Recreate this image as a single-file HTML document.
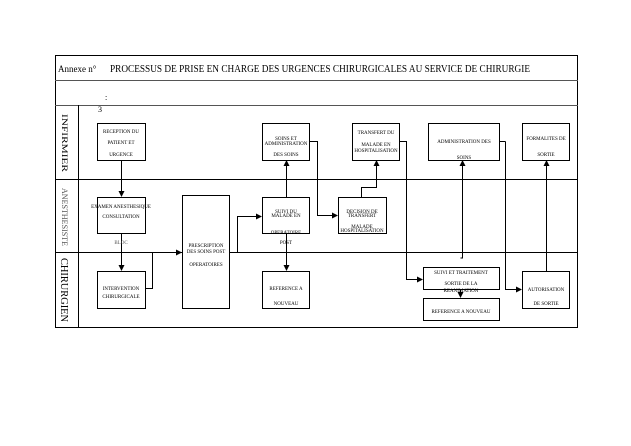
<!DOCTYPE html>
<html><head><meta charset="utf-8"><style>
html,body{margin:0;padding:0;background:#fff;}
svg{display:block;font-family:"Liberation Serif",serif;}
</style></head><body>
<svg width="631" height="446" viewBox="0 0 631 446" xmlns="http://www.w3.org/2000/svg">
<defs><marker id="a" markerWidth="6" markerHeight="6" refX="5" refY="3" orient="auto"><path d="M0,0 L6,3 L0,6 z" fill="#000"/></marker></defs>
<rect width="631" height="446" fill="#fff"/>
<g fill="none" stroke="#000" stroke-width="1">
<rect x="55.5" y="55.5" width="522" height="272"/>
<line x1="55" y1="80.5" x2="578" y2="80.5" stroke="#555"/>
<line x1="55" y1="105.5" x2="578" y2="105.5" stroke="#555"/>
<line x1="55" y1="179.5" x2="578" y2="179.5"/>
<line x1="55" y1="252.5" x2="578" y2="252.5"/>
<line x1="78.5" y1="105" x2="78.5" y2="327"/>
</g>
<text x="58" y="72" font-size="9">Annexe n°</text>
<text x="110" y="72" font-size="10.5" textLength="420" lengthAdjust="spacingAndGlyphs">PROCESSUS DE PRISE EN CHARGE DES URGENCES CHIRURGICALES AU SERVICE DE CHIRURGIE</text>
<text x="105" y="100" font-size="8">:</text>
<text x="98" y="112" font-size="8">3</text>
<g font-size="8">
<text transform="translate(62,114) rotate(90)" textLength="58" lengthAdjust="spacingAndGlyphs">INFIRMIER</text>
<text transform="translate(62,188) rotate(90)" textLength="58" lengthAdjust="spacingAndGlyphs" fill="#555">ANESTHESISTE</text>
<text transform="translate(61,258) rotate(90)" font-size="10" textLength="64" lengthAdjust="spacingAndGlyphs">CHIRURGIEN</text>
</g>
<g fill="#fff" stroke="#000" stroke-width="1">
<rect x="97.5" y="123.5" width="48" height="37"/>
<rect x="262.5" y="123.5" width="47" height="37"/>
<rect x="352.5" y="123.5" width="47" height="37"/>
<rect x="428.5" y="123.5" width="71" height="37"/>
<rect x="522.5" y="123.5" width="47" height="37"/>
<rect x="97.5" y="197.5" width="48" height="36"/>
<rect x="182.5" y="195.5" width="47" height="113"/>
<rect x="262.5" y="197.5" width="47" height="36"/>
<rect x="338.5" y="197.5" width="48" height="36"/>
<rect x="97.5" y="271.5" width="48" height="37"/>
<rect x="262.5" y="271.5" width="47" height="37"/>
<rect x="423.5" y="267.5" width="76" height="22"/>
<rect x="423.5" y="298.5" width="76" height="22"/>
<rect x="522.5" y="271.5" width="47" height="37"/>
</g>
<g fill="none" stroke="#000" stroke-width="1" marker-end="url(#a)">
<polyline points="121.5,160 121.5,196"/>
<polyline points="121.5,233 121.5,270"/>
<polyline points="145,288.5 152.5,288.5 152.5,252.5 181,252.5"/>
<polyline points="229,252.5 237.5,252.5 237.5,216.5 261,216.5"/>
<polyline points="286.5,197 286.5,161"/>
<polyline points="286.5,233 286.5,270"/>
<polyline points="309,141.5 317.5,141.5 317.5,215.5 337,215.5"/>
<polyline points="361.5,197 361.5,187.5 376.5,187.5 376.5,161"/>
<polyline points="399,141.5 406.5,141.5 406.5,279.5 422,279.5"/>
<polyline points="505.5,141.5 505.5,289.5 521,289.5"/>
<polyline points="499,141.5 505.5,141.5" marker-end="none"/>
<polyline points="460.5,258 462.5,258 462.5,161"/>
<polyline points="546.5,271 546.5,161"/>
<polyline points="460.5,289 460.5,297"/>
</g>
<g font-size="5" text-anchor="middle">
<text x="121" y="133">RECEPTION DU</text><text x="121" y="144">PATIENT ET</text><text x="121" y="156">URGENCE</text>
<text x="286" y="140">SOINS ET</text><text x="286" y="145">ADMINISTRATION</text><text x="286" y="156">DES SOINS</text>
<text x="376" y="134">TRANSFERT DU</text><text x="376" y="146">MALADE EN</text><text x="376" y="152">HOSPITALISATION</text>
<text x="464" y="143">ADMINISTRATION DES</text><text x="464" y="159">SOINS</text>
<text x="546" y="140">FORMALITES DE</text><text x="546" y="156">SORTIE</text>
<text x="121" y="208">EXAMEN ANESTHESIQUE</text><text x="121" y="218">CONSULTATION</text>
<text x="121" y="244" fill="#555">BLOC</text>
<text x="206" y="247">PRESCRIPTION</text><text x="206" y="253">DES SOINS POST</text><text x="206" y="266">OPERATOIRES</text>
<text x="286" y="213">SUIVI DU</text><text x="286" y="217">MALADE EN</text><text x="286" y="234">OPERATOIRE</text><text x="286" y="244">POST</text>
<text x="362" y="213">DECISION DE</text><text x="362" y="217">TRANSFERT</text><text x="362" y="228">MALADE</text><text x="362" y="232">HOSPITALISATION</text>
<text x="121" y="290">INTERVENTION</text><text x="121" y="298">CHIRURGICALE</text>
<text x="286" y="290">REFERENCE A</text><text x="286" y="305">NOUVEAU</text>
<text x="461" y="274">SUIVI ET TRAITEMENT</text><text x="461" y="285">SORTIE DE LA</text><text x="461" y="292">REANIMATION</text>
<text x="461" y="313">REFERENCE A NOUVEAU</text>
<text x="546" y="291">AUTORISATION</text><text x="546" y="305">DE SORTIE</text>
</g>
</svg>
</body></html>
